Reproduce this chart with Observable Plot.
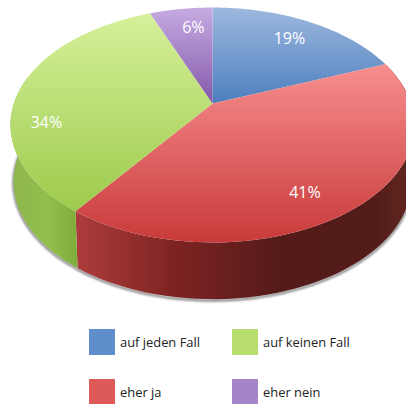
<!DOCTYPE html>
<html>
<head>
<meta charset="utf-8">
<script src="https://cdn.jsdelivr.net/npm/d3@7"></script>
<script src="https://cdn.jsdelivr.net/npm/@observablehq/plot@0.6"></script>
<style>
html,body{margin:0;padding:0;background:#fff;overflow:hidden;width:406px;height:404px}
svg{display:block}
#legend{display:grid;grid-auto-flow:column;grid-template-rows:26px 26px;grid-template-columns:143px 143px;row-gap:24px;
  margin:7px 0 0 89px;font:12.9px "Open Sans",sans-serif;color:#222}
#legend div{display:flex;align-items:center;gap:5px;white-space:nowrap}
#legend i{display:block;width:26px;height:26px}
</style>
</head>
<body>
<div id="chart"></div>
<div id="legend"></div>
<script>
// Data, in pie order (clockwise from 12 o'clock)
const categories = ["auf jeden Fall", "eher ja", "auf keinen Fall", "eher nein"];
const shares = [19, 41, 34, 6];

// Styles
const swatchColors = ["#5f8fca", "#dd5a58", "#b8df6e", "#a684ca"];
const topStops = [["#9db8de", "#4d7fbf"], ["#f78e8e", "#c93a3a"], ["#d6f09a", "#9dcb4c"], ["#c6abe2", "#8358aa"]];
const sideStops = [
  null,
  [[0, "#ad3c3c"], [0.3, "#7c2322"], [0.6, "#541b19"], [0.88, "#531c19"], [1, "#62281f"]],
  [[0, "#8db54d"], [0.55, "#92bf4c"], [1, "#7dad3b"]],
  null
];
const labelNudge = [[0, 0], [-13, 12], [-17, 30], [6, 0]];

// Tilted-disc projection
const tilt = -0.183;
const depth = 0.5, baseScale = 0.985;
const project = (share, r = 1) => {
  const a = (share / 100) * 2 * Math.PI;
  const u = r * Math.sin(a), v = -r * Math.cos(a), w = 1 + tilt * v;
  return {x: u / w, y: v / w};
};
const arc = (from, to) => d3.range(0, 61).map(i => project(from + (to - from) * i / 60));
const base = p => ({x: p.x * baseScale, y: p.y + depth});
const frontLimit = 79; // percent around the rim at which the rim turns away

const starts = Array.from(d3.cumsum([0, ...shares]));
const slices = categories.map((name, i) => ({
  name, share: shares[i], i, from: starts[i], to: starts[i + 1]
}));

const gradient = (id, stops, horizontal) => {
  const g = d3.create("svg:linearGradient").attr("id", id)
    .attr("x1", 0).attr("y1", 0).attr("x2", horizontal ? 1 : 0).attr("y2", horizontal ? 0 : 1);
  stops.forEach(([o, c]) => g.append("stop").attr("offset", o).attr("stop-color", c));
  return g.node();
};
const defs = () => {
  const d = d3.create("svg:defs");
  slices.forEach(s => {
    d.append(() => gradient(`top${s.i}`, [[0, topStops[s.i][0]], [1, topStops[s.i][1]]], false));
    if (sideStops[s.i]) d.append(() => gradient(`side${s.i}`, sideStops[s.i], true));
  });
  return d.node();
};

const sides = slices.filter(s => sideStops[s.i]).map(s => {
  const rim = arc(s.from, Math.min(s.to, frontLimit));
  return Plot.line([...rim, ...rim.map(base).reverse()],
    {x: "x", y: "y", fill: `url(#side${s.i})`, stroke: "none"});
});
const shadow = Plot.line(arc(slices[1].from, frontLimit).map(base).map(p => ({x: p.x, y: p.y + 0.012})),
  {x: "x", y: "y", stroke: "#777", strokeWidth: 2.2, imageFilter: "blur(1px)"});
const tops = slices.map(s =>
  Plot.line([{x: 0, y: 0}, ...arc(s.from, s.to)],
    {x: "x", y: "y", fill: `url(#top${s.i})`, stroke: "none"}));
const labels = slices.map(s =>
  Plot.text([{...project((s.from + s.to) / 2, 0.77), t: s.share + "%"}], {
    x: "x", y: "y", text: "t", fill: "#fff", fontSize: 16,
    fontFamily: "Open Sans", dx: labelNudge[s.i][0], dy: labelNudge[s.i][1]
  }));

const chart = Plot.plot({
  width: 406, height: 322, margin: 0,
  x: {domain: [-1.0675, 0.9768], axis: null},
  y: {domain: [-0.9075, 1.9295], range: [0, 322], axis: null},
  marks: [defs, shadow, ...sides, ...tops, ...labels]
});
document.getElementById("chart").append(chart);

const legend = d3.select("#legend");
categories.forEach((name, i) => {
  const row = legend.append("div");
  row.append("i").style("background", swatchColors[i]);
  row.append("span").text(name);
});
</script>
</body>
</html>
